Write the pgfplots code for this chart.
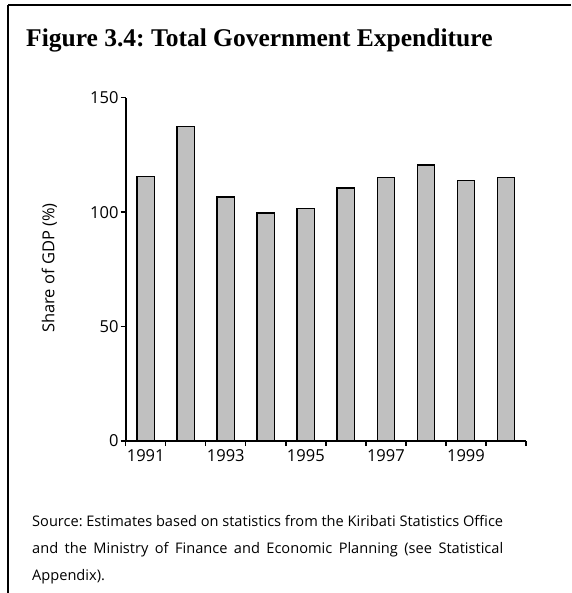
\documentclass[border=0pt]{standalone}
\usepackage{pgfplots}
\pgfplotsset{compat=1.18}
\usepackage{fontspec}
\setmainfont{Open Sans}
\newfontfamily\titlefont{Liberation Serif}
\definecolor{barfill}{RGB}{192,192,192}
\frenchspacing
\begin{document}
\begin{tikzpicture}
\useasboundingbox (0,0) rectangle (571pt,-593pt);
\draw[line width=2.5pt] (8pt,-5pt)--(571pt,-5pt);
\draw[line width=2.5pt] (8pt,-5pt)--(8pt,-593pt);
\node[anchor=base west,inner sep=0pt] at (26pt,-47pt) {\titlefont\bfseries\fontsize{25.5}{30}\selectfont Figure 3.4: Total Government Expenditure};
\begin{axis}[
  at={(125.7pt,-441pt)}, anchor=south west,
  scale only axis, width=400.3pt, height=343.3pt,
  xmin=0, xmax=10, ymin=0, ymax=150,
  axis x line=bottom, axis y line=left,
  axis line style={-, line width=1.6pt},
  tick align=outside,
  major tick length=5pt,
  tick style={black, line width=1.4pt},
  xtick={0,1,...,10}, xticklabels={},
  extra x ticks={0.5,2.5,4.5,6.5,8.5},
  extra x tick labels={1991,1993,1995,1997,1999},
  extra x tick style={major tick length=0pt, tick style={draw=none}},
  ytick={0,50,100,150},
  /pgf/number format/assume math mode=true,
  ticklabel style={font=\fontsize{16.5}{19}\selectfont},
  yticklabel style={inner sep=2pt},
  xticklabel style={inner sep=2pt, yshift=-6pt},
  clip=false,
]
\addplot[ybar, bar width=17.5pt, fill=barfill, draw=black, line width=1.3pt]
  coordinates {(0.5,115.6) (1.5,137.5) (2.5,106.6) (3.5,99.6) (4.5,101.7)
               (5.5,110.5) (6.5,115.2) (7.5,120.6) (8.5,113.9) (9.5,115.2)};
\end{axis}
\node[rotate=90, anchor=base, inner sep=0pt] at (54.3pt,-268pt) {\fontsize{16.5}{19}\selectfont Share of GDP (\%)};
\node[anchor=base west, inner sep=0pt, text width=471pt, align=justify,
      font=\fontsize{14.6}{26.7}\selectfont] at (32pt,-526.7pt)
  {\hyphenpenalty=10000 \exhyphenpenalty=10000 Source: Estimates based on statistics from the Kiribati Statistics Office\linebreak and the Ministry of Finance and Economic Planning (see Statistical\linebreak Appendix).};
\end{tikzpicture}
\end{document}
